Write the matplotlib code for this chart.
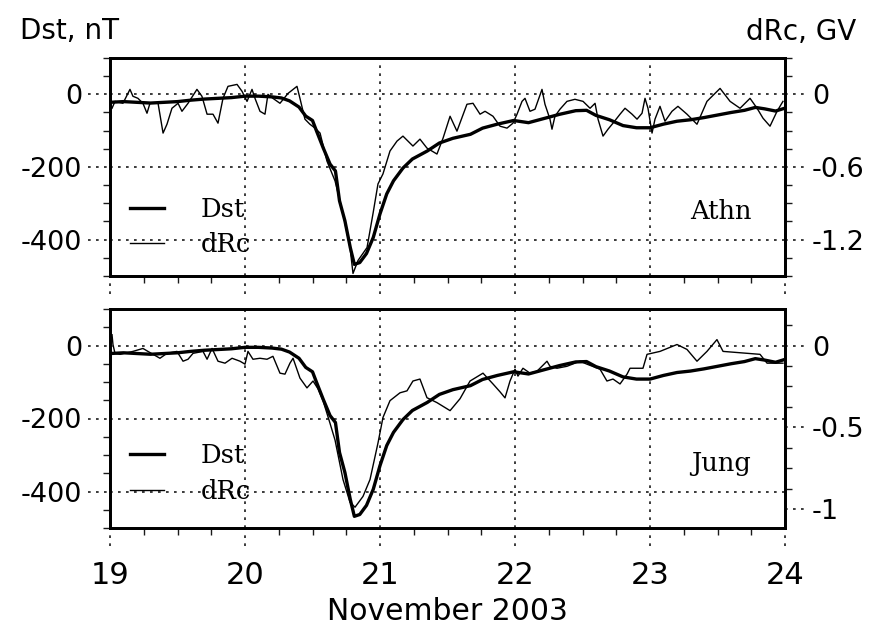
import matplotlib
matplotlib.use('Agg')
import matplotlib.pyplot as plt
import matplotlib.transforms as mtransforms
from matplotlib.ticker import MultipleLocator, FuncFormatter

# ---------------- data ----------------
dst_days = [19.00, 19.10, 19.20, 19.30, 19.40, 19.50, 19.60, 19.70, 19.80, 19.90,
            20.00, 20.10, 20.20, 20.27, 20.33, 20.40, 20.45, 20.50, 20.53, 20.58,
            20.63, 20.67, 20.70, 20.74, 20.78, 20.81, 20.85, 20.90, 20.95, 21.00,
            21.05, 21.10, 21.17, 21.24, 21.35, 21.44, 21.54, 21.67, 21.76, 21.87,
            21.99, 22.10, 22.22, 22.33, 22.45, 22.53, 22.60, 22.70, 22.80, 22.90,
            23.00, 23.10, 23.20, 23.30, 23.40, 23.50, 23.60, 23.70, 23.78, 23.85,
            23.93, 24.00]
dst_nT = [-22, -20, -22, -24, -22, -20, -16, -13, -11, -9,
          -5, -5, -7, -10, -18, -35, -60, -72, -101, -148,
          -192, -211, -293, -348, -422, -468, -463, -438, -394, -329,
          -274, -238, -203, -178, -156, -134, -121, -110, -93, -82,
          -72, -78, -66, -55, -45, -44, -58, -70, -86, -92,
          -92, -82, -74, -70, -64, -57, -50, -44, -36, -40,
          -46, -38]

athn_days = [19.015, 19.037, 19.096, 19.148, 19.170, 19.207, 19.244, 19.274, 19.296, 19.356,
             19.393, 19.422, 19.459, 19.504, 19.533, 19.578, 19.644, 19.681, 19.719, 19.763,
             19.800, 19.837, 19.874, 19.941, 19.978, 20.015, 20.052, 20.074, 20.111, 20.148,
             20.170, 20.207, 20.259, 20.319, 20.385, 20.407, 20.444, 20.481, 20.519, 20.556,
             20.607, 20.667, 20.726, 20.778, 20.800, 20.837, 20.904, 20.948, 20.985, 21.022,
             21.074, 21.126, 21.170, 21.244, 21.296, 21.348, 21.422, 21.467, 21.519, 21.570,
             21.644, 21.689, 21.741, 21.778, 21.837, 21.889, 21.941, 21.985, 22.015, 22.052,
             22.074, 22.111, 22.148, 22.200, 22.222, 22.259, 22.274, 22.296, 22.333, 22.385,
             22.444, 22.504, 22.556, 22.593, 22.615, 22.652, 22.689, 22.726, 22.778, 22.815,
             22.867, 22.904, 22.941, 22.963, 22.985, 23.015, 23.037, 23.074, 23.111, 23.163,
             23.207, 23.274, 23.348, 23.422, 23.519, 23.593, 23.667, 23.741, 23.793, 23.837,
             23.889, 23.941, 23.985]
athn_GV = [-0.115, -0.058, -0.074, 0.041, -0.016, -0.033, -0.074, -0.156, -0.074, -0.074,
           -0.320, -0.247, -0.115, -0.074, -0.140, -0.074, 0.041, -0.016, -0.164, -0.164,
           -0.238, -0.033, 0.066, 0.082, 0.025, -0.058, 0.041, -0.033, -0.140, -0.164,
           0.000, -0.033, -0.074, 0.008, 0.066, -0.033, -0.205, -0.247, -0.279, -0.320,
           -0.551, -0.715, -0.986, -1.265, -1.479, -1.372, -1.265, -0.986, -0.740, -0.657,
           -0.468, -0.386, -0.345, -0.427, -0.370, -0.444, -0.493, -0.362, -0.181, -0.304,
           -0.082, -0.074, -0.164, -0.140, -0.181, -0.263, -0.279, -0.238, -0.164, -0.058,
           -0.033, -0.140, -0.123, 0.041, -0.082, -0.205, -0.288, -0.181, -0.123, -0.058,
           -0.041, -0.058, -0.115, -0.074, -0.205, -0.345, -0.288, -0.238, -0.164, -0.115,
           -0.164, -0.205, -0.156, -0.033, -0.115, -0.320, -0.205, -0.099, -0.222, -0.140,
           -0.099, -0.164, -0.247, -0.058, 0.049, -0.058, -0.115, -0.033, -0.115, -0.197,
           -0.263, -0.140, -0.058]

jung_days = [19.015, 19.022, 19.037, 19.074, 19.170, 19.244, 19.281, 19.370, 19.422, 19.496,
             19.541, 19.578, 19.615, 19.689, 19.719, 19.756, 19.800, 19.852, 19.904, 19.963,
             20.000, 20.022, 20.059, 20.111, 20.163, 20.207, 20.259, 20.296, 20.333, 20.356,
             20.407, 20.459, 20.504, 20.541, 20.578, 20.630, 20.667, 20.726, 20.778, 20.815,
             20.874, 20.926, 20.985, 21.022, 21.074, 21.148, 21.200, 21.244, 21.296, 21.348,
             21.422, 21.519, 21.593, 21.667, 21.763, 21.837, 21.889, 21.926, 21.963, 22.000,
             22.022, 22.059, 22.111, 22.163, 22.237, 22.259, 22.311, 22.385, 22.481, 22.533,
             22.630, 22.681, 22.726, 22.778, 22.830, 22.852, 22.948, 22.978, 23.074, 23.200,
             23.274, 23.348, 23.422, 23.496, 23.541, 23.815, 23.867, 23.985]
jung_GV = [0.066, 0.006, -0.048, -0.054, -0.036, -0.018, -0.036, -0.078, -0.048, -0.036,
           -0.096, -0.084, -0.048, -0.036, -0.084, -0.018, -0.096, -0.108, -0.078, -0.096,
           -0.114, -0.036, -0.084, -0.078, -0.084, -0.066, -0.169, -0.175, -0.108, -0.078,
           -0.199, -0.259, -0.217, -0.265, -0.337, -0.476, -0.578, -0.819, -0.958, -0.988,
           -0.922, -0.819, -0.596, -0.440, -0.337, -0.289, -0.277, -0.217, -0.205, -0.319,
           -0.349, -0.398, -0.325, -0.217, -0.169, -0.235, -0.283, -0.320, -0.217, -0.145,
           -0.187, -0.139, -0.169, -0.157, -0.096, -0.127, -0.139, -0.127, -0.096, -0.114,
           -0.145, -0.217, -0.205, -0.235, -0.175, -0.139, -0.139, -0.054, -0.036, 0.006,
           -0.024, -0.096, -0.036, 0.036, -0.036, -0.054, -0.108, -0.108]

day_ticks = [19, 20, 21, 22, 23, 24]
dst_ticks = [-400, -200, 0]
athn_ticks = [-1.2, -0.6, 0]
jung_ticks = [-1, -0.5, 0]
legend_labels = ['Dst', 'dRc']

# ---------------- styling ----------------
plt.rcParams['axes.unicode_minus'] = False
plt.rcParams['font.family'] = ['DejaVu Sans']

fig = plt.figure(figsize=(8.7, 6.29), dpi=100)
W, H = 870.0, 629.0

GRID_KW = dict(color='0.1', lw=1.2, ls=(0, (1.6, 3.2)))
TICK_FS = 19.5
SERIF = 'DejaVu Serif'


def fmt(v, pos=None):
    return '%g' % v


def dotted_tick(ax, axis, positions, length_px, side):
    bb = ax.get_position()
    if axis == 'y':
        trans = mtransforms.blended_transform_factory(ax.transAxes, ax.transData)
        frac = length_px / (bb.width * W)
        xs = [-frac, 0] if side == 'left' else [1, 1 + frac]
        for p in positions:
            ax.plot(xs, [p, p], transform=trans, clip_on=False, **GRID_KW)
    else:
        trans = mtransforms.blended_transform_factory(ax.transData, ax.transAxes)
        frac = length_px / (bb.height * H)
        for p in positions:
            ax.plot([p, p], [-frac, 0], transform=trans, clip_on=False, **GRID_KW)


def panel(rect, drc_days, drc_vals, k, rticks, rminor, station, show_xlabels, leg_y):
    ax = fig.add_axes(rect)
    l_dst, = ax.plot(dst_days, dst_nT, color='black', lw=2.4, solid_joinstyle='round')
    ax.set_xlim(19, 24)
    ax.set_ylim(-500, 100)
    ax.set_xticks(day_ticks)
    ax.xaxis.set_minor_locator(MultipleLocator(0.25))
    ax.set_yticks(dst_ticks)
    ax.yaxis.set_minor_locator(MultipleLocator(50))
    ax.yaxis.set_major_formatter(FuncFormatter(fmt))
    ax.grid(True, which='major', **GRID_KW)
    ax.tick_params(which='major', length=0)
    ax.tick_params(axis='y', which='major', pad=20, labelsize=TICK_FS)
    ax.tick_params(axis='x', which='major', pad=24, labelsize=22)
    ax.tick_params(which='minor', length=5, width=1.0, direction='out', color='0.1')
    if not show_xlabels:
        ax.tick_params(axis='x', labelbottom=False)
    for s in ax.spines.values():
        s.set_linewidth(2.0)

    ax2 = ax.twinx()
    l_drc, = ax2.plot(drc_days, drc_vals, color='black', lw=1.0)
    ax2.set_ylim(-500 * k, 100 * k)
    ax2.set_yticks(rticks)
    ax2.yaxis.set_minor_locator(MultipleLocator(rminor))
    ax2.yaxis.set_major_formatter(FuncFormatter(fmt))
    ax2.tick_params(which='major', length=0, pad=19.5, labelsize=TICK_FS)
    ax2.tick_params(which='minor', length=5, width=1.0, direction='out', color='0.1')
    for s in ax2.spines.values():
        s.set_linewidth(2.0)

    dotted_tick(ax, 'y', dst_ticks, 22, 'left')
    dotted_tick(ax2, 'y', rticks, 24, 'right')
    dotted_tick(ax, 'x', day_ticks, 18, 'bottom')

    ax.legend([l_dst, l_drc], legend_labels, loc='center left',
              bbox_to_anchor=(0.03, leg_y), frameon=False,
              prop=dict(family=SERIF, size=18.5), handlelength=1.3,
              handletextpad=1.45, borderpad=0, borderaxespad=0,
              labelspacing=0.42)
    ax.text(0.905, 0.295, station, transform=ax.transAxes, ha='center',
            va='center', family=SERIF, size=18.5)
    return ax, ax2


top_rect = [110 / W, 1 - 276 / H, 675 / W, 218 / H]
bot_rect = [110 / W, 1 - 528 / H, 675 / W, 219 / H]

panel(top_rect, athn_days, athn_GV, 0.003, athn_ticks, 0.15, 'Athn', False, 0.225)
panel(bot_rect, jung_days, jung_GV, 0.00223, jung_ticks, 0.125, 'Jung', True, 0.25)

fig.text(70 / W, 1 - 31 / H, 'Dst, nT', ha='center', va='center', fontsize=20)
fig.text(801 / W, 1 - 32 / H, 'dRc, GV', ha='center', va='center', fontsize=20)
fig.text(447 / W, 1 - 612 / H, 'November 2003', ha='center', va='center', fontsize=21.5)

fig.savefig('out.png', dpi=100)
